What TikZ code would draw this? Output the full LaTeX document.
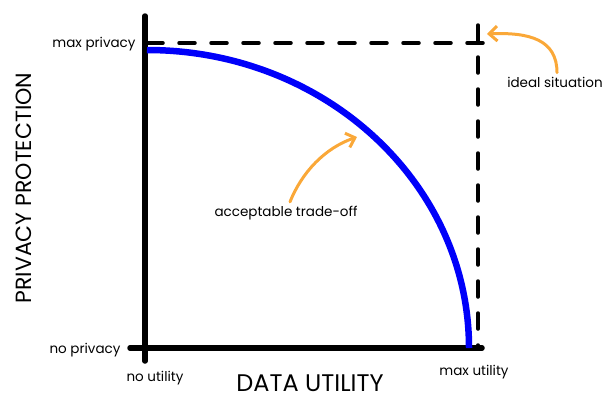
\documentclass[tikz,border=0pt]{standalone}
\usepackage{fontspec}
\setmainfont{Poppins}
\usetikzlibrary{arrows.meta}
\definecolor{curveblue}{RGB}{0,0,250}
\definecolor{noteorange}{RGB}{250,168,56}

\begin{document}
\begin{tikzpicture}[x=1pt,y=-1pt,
  axis/.style={line width=5.5pt,line cap=round},
  guide/.style={line width=3.5pt,line cap=round,dash pattern=on 16pt off 16pt},
  lab/.style={inner sep=0pt,font=\fontsize{13.5}{15}\selectfont},
  axislab/.style={inner sep=0pt,font=\fontsize{24}{28}\selectfont},
  note/.style={noteorange,line width=3pt,line cap=round,-{Straight Barb[length=8pt,width=15pt,line width=3pt]}}]
\useasboundingbox (0,0) rectangle (604,402);

\coordinate (top) at (145,16);
\coordinate (origin) at (145,348);
\coordinate (left) at (130,348);
\coordinate (right) at (482,348);
\coordinate (bottom) at (145,361);
\coordinate (corner) at (478,43);

% dashed guides
\draw[guide] (147,43)--(496,43);
\draw[guide] (478,25)--(478,346);

% axes
\draw[axis] (top)--(bottom);
\draw[axis] (left)--(right);

% trade-off curve
\draw[curveblue,line width=6.5pt] (147,50) arc[start angle=270,end angle=360,x radius=322,y radius=298];

% labels
\node[lab] (maxp) at (94,44) {max privacy};
\node[lab] (nop) at (85,350) {no privacy};
\node[lab] (nou) at (155,378) {no utility};
\node[lab] (maxu) at (474,372) {max utility};
\node[lab] (ideal) at (555,82) {ideal situation};
\node[lab] (trade) at (286,213) {acceptable trade-off};

\node[axislab] (xlab) at (310,383) {DATA UTILITY};
\node[axislab,font=\fontsize{22}{26}\selectfont,rotate=90] (ylab) at (24,188) {PRIVACY PROTECTION};

% notes
\coordinate (idealtip) at (487,34);
\coordinate (tradetip) at (357,137);
\draw[note] ([xshift=2pt,yshift=4pt]ideal.north) .. controls (557,40) and (530,32) .. (idealtip);
\draw[note] ([xshift=4pt,yshift=4pt]trade.north) .. controls (302,172) and (325,148) .. (tradetip);
\end{tikzpicture}
\end{document}
